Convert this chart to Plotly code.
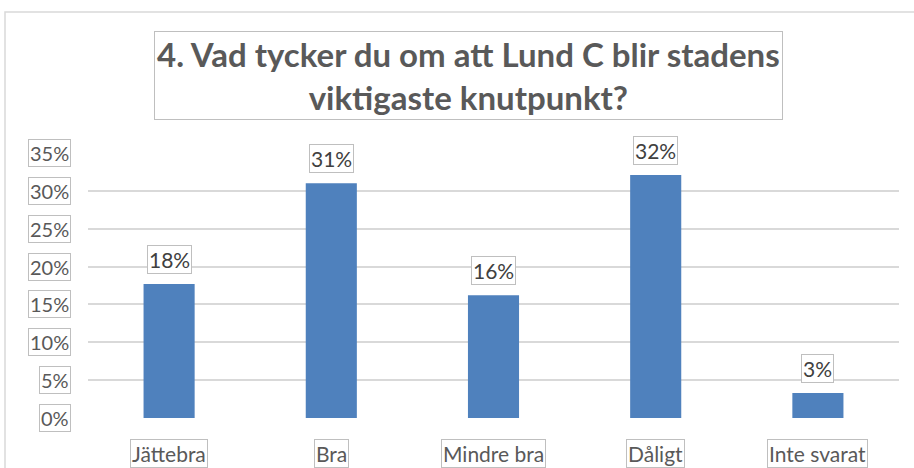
import plotly.graph_objects as go

categories = ["Jättebra", "Bra", "Mindre bra", "Dåligt", "Inte svarat"]
values = [17.7, 31.0, 16.2, 32.1, 3.3]
value_labels = ["18%", "31%", "16%", "32%", "3%"]
tick_vals = [0, 5, 10, 15, 20, 25, 30, 35]
tick_text = ["0%", "5%", "10%", "15%", "20%", "25%", "30%", "35%"]
title_text = "4. Vad tycker du om att Lund C blir stadens<br>viktigaste knutpunkt?"

FONT = "Lato"
BOX = "#bfbfbf"
TXT = "#595959"

L, R, T, B = 88, 15, 153, 50
PW = 914 - L - R
PH = 468 - T - B

fig = go.Figure()
fig.add_trace(go.Bar(x=categories, y=values, marker=dict(color="#4f81bd", line=dict(width=0)),
                     width=0.315, hoverinfo="skip"))

ann = []
for t, v in zip(tick_text, tick_vals):
    ann.append(dict(xref="paper", yref="y", x=0, y=v, text=t, showarrow=False,
                    xanchor="right", yanchor="middle", xshift=-17,
                    font=dict(family=FONT, size=20, color=TXT),
                    bordercolor=BOX, borderwidth=1, borderpad=1, bgcolor="white"))
for c, v, t in zip(categories, values, value_labels):
    ann.append(dict(xref="x", yref="y", x=c, y=v, text=t, showarrow=False,
                    xanchor="center", yanchor="bottom", yshift=10,
                    font=dict(family=FONT, size=21, color="#404040"),
                    bordercolor=BOX, borderwidth=1, borderpad=1, bgcolor="white"))
for c in categories:
    ann.append(dict(xref="x", yref="paper", x=c, y=0, text=c, showarrow=False,
                    xanchor="center", yanchor="top", yshift=-21,
                    font=dict(family=FONT, size=21, color=TXT),
                    bordercolor=BOX, borderwidth=1, borderpad=1, bgcolor="white"))
ann.append(dict(xref="paper", yref="paper", x=(468 - L) / PW, y=1, yshift=33,
                text="<b>" + title_text + "</b>", showarrow=False,
                xanchor="center", yanchor="bottom",
                font=dict(family=FONT, size=33, color=TXT),
                bordercolor=BOX, borderwidth=1, borderpad=2, bgcolor="white"))

fig.update_layout(
    width=914, height=468,
    margin=dict(l=L, r=R, t=T, b=B),
    paper_bgcolor="white", plot_bgcolor="white",
    showlegend=False,
    bargap=0.685,
    xaxis=dict(showticklabels=False, showline=False, ticks="", showgrid=False, zeroline=False),
    yaxis=dict(range=[0, 35], tickvals=tick_vals, showticklabels=False, ticks="",
               showgrid=True, gridcolor="#d9d9d9", gridwidth=1.5, zeroline=False, showline=False),
    annotations=ann,
    shapes=[dict(type="rect", xref="paper", yref="paper",
                 x0=(5 - L) / PW, x1=(930 - L) / PW, y0=(418 - 480) / PH, y1=(418 - 12) / PH,
                 line=dict(color="#d9d9d9", width=1.5), fillcolor="rgba(0,0,0,0)", layer="below")],
)
fig.write_html("out.html", config={"displayModeBar": False},
               post_script="document.body.style.margin='0px';")
